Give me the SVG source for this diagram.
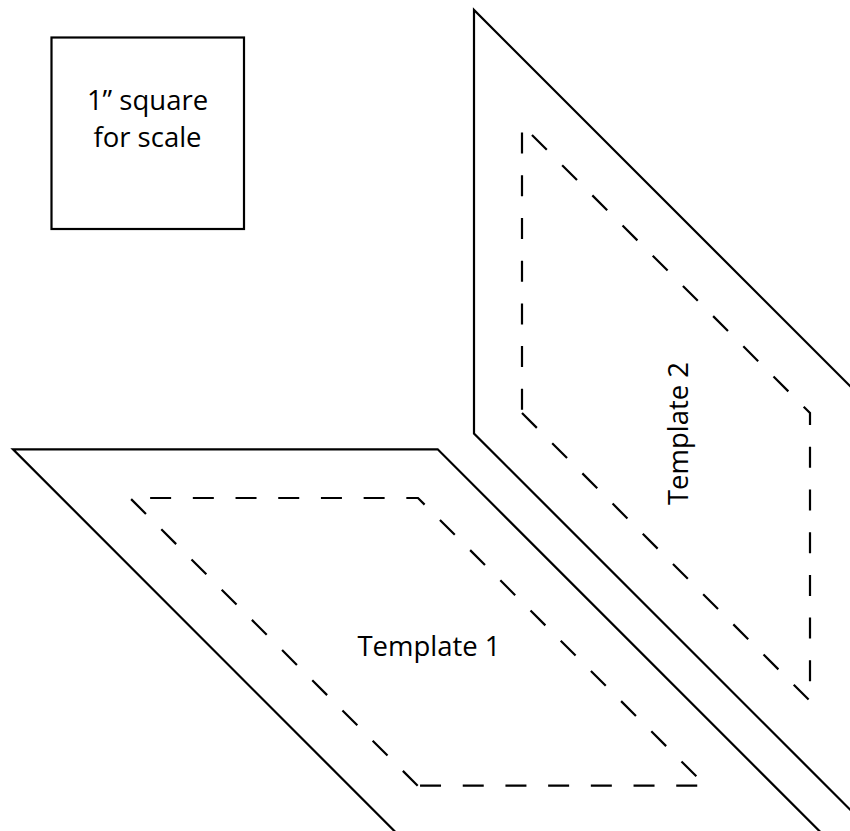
<svg xmlns="http://www.w3.org/2000/svg" width="850" height="831" viewBox="0 0 850 831">
<style>
.solid{fill:none;stroke:#000;stroke-width:2.2;stroke-linejoin:miter}
.dash{fill:none;stroke:#000;stroke-width:2.2;stroke-dasharray:21 21.7;stroke-linejoin:miter}
.lbl{font-family:"Open Sans","Liberation Sans",sans-serif;font-size:27.5px;fill:#000;text-anchor:middle}
</style>
<rect width="850" height="831" fill="#fff"/>
<g id="scale-square">
<rect class="solid" x="51.5" y="37.5" width="192.5" height="191.5"/>
<text class="lbl" x="147.5" y="109.5">1” square</text>
<text class="lbl" x="147.5" y="147">for scale</text>
</g>
<g id="template-1">
<polygon class="solid" points="13,449.3 437.7,449.3 822.7,834.3 397.7,834.3"/>
<path class="dash" d="M417.7,785.7 L130,498 L418,498 L705.7,785.7 Z"/>
<text class="lbl" x="429" y="656">Template 1</text>
</g>
<g id="template-2">
<polygon class="solid" points="474,10 474,433.5 858,817.5 858,394"/>
<path class="dash" d="M522,413 L810,701 L810,413 L522,125 Z"/>
<text class="lbl" transform="translate(688,433.5) rotate(-90)" x="0" y="0">Template 2</text>
</g>
<g id="connectors"></g>
</svg>
